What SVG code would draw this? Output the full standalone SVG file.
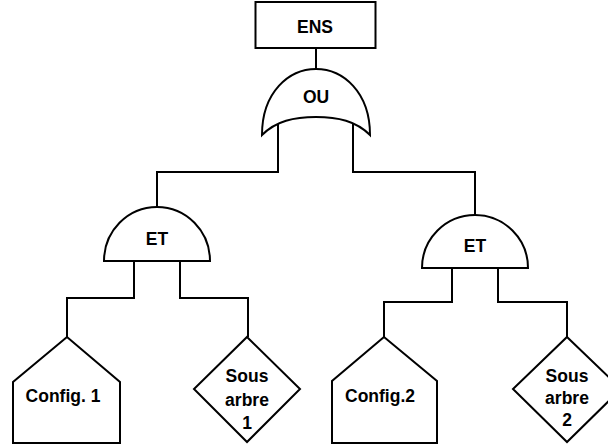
<svg xmlns="http://www.w3.org/2000/svg" width="608" height="445" viewBox="0 0 608 445">
<style>
.s{fill:#fff;stroke:#000;stroke-width:2;stroke-linejoin:miter}
.c{fill:none;stroke:#000;stroke-width:2}
text{font-family:"Liberation Sans",Arial,sans-serif;font-weight:bold;font-size:17.5px;text-anchor:middle;fill:#000}
</style>
<rect width="608" height="445" fill="#fff"/>
<g id="connectors">
<path class="c" d="M316,48 V70"/>
<path class="c" d="M278,122 V172 H157 V207"/>
<path class="c" d="M353,122 V172 H475 V215"/>
<path class="c" d="M134,261 V298 H67 V337"/>
<path class="c" d="M180,261 V298 H248 V337"/>
<path class="c" d="M452,268 V302 H384 V337"/>
<path class="c" d="M498,268 V302 H567 V337"/>
</g>
<g id="ENS">
<rect class="s" x="255.5" y="2" width="120" height="46"/>
<text x="315" y="33">ENS</text>
</g>
<g id="OU">
<path class="s" d="M262,135 C262,92 289,69 316,69 C343,69 370,92 370,135 C356,121 338,117 316,117 C294,117 276,121 262,135 Z"/>
<text x="316" y="103">OU</text>
</g>
<g id="ET1">
<path class="s" d="M104,261 A53,54 0 0 1 210,261 Z"/>
<text x="157" y="245">ET</text>
</g>
<g id="ET2">
<path class="s" d="M422,268 A53,53 0 0 1 528,268 Z"/>
<text x="475" y="252">ET</text>
</g>
<g id="Config1">
<path class="s" d="M67,337 L13,382 V443 H120 V382 Z"/>
<text x="63" y="402">Config. 1</text>
</g>
<g id="SousArbre1">
<path class="s" d="M247,337 L300,389 L247,442 L194,389 Z"/>
<text x="247" y="382">Sous</text>
<text x="247" y="406">arbre</text>
<text x="247" y="429">1</text>
</g>
<g id="Config2">
<path class="s" d="M384,337 L332,381 V443 H437 V381 Z"/>
<text x="380" y="402">Config.2</text>
</g>
<g id="SousArbre2">
<path class="s" d="M567,337 L621,389 L567,442 L513,389 Z"/>
<text x="567" y="382">Sous</text>
<text x="567" y="404">arbre</text>
<text x="567" y="426">2</text>
</g>
</svg>
